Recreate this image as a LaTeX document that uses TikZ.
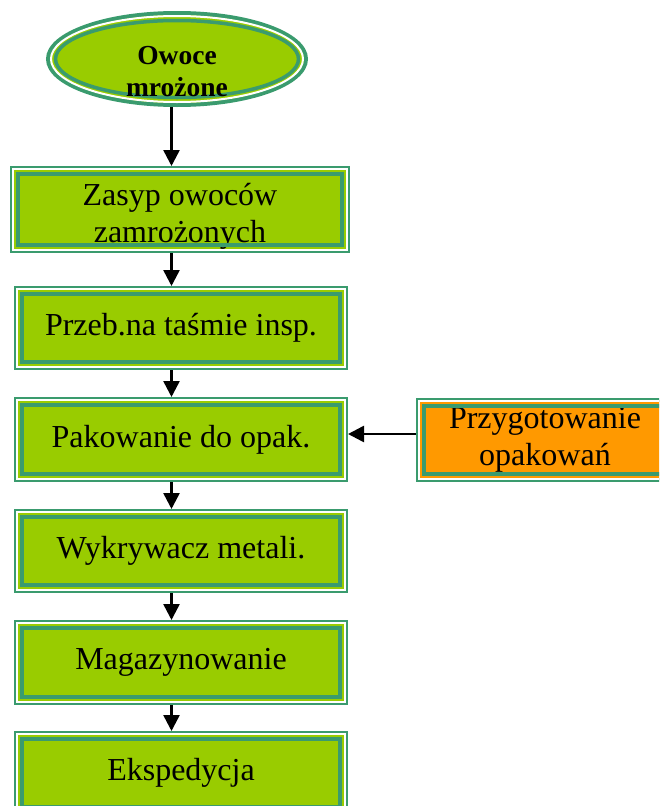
\documentclass[tikz,border=0pt]{standalone}
\usepackage{fontspec}
\setmainfont{Liberation Serif}
\usetikzlibrary{shapes.geometric,arrows.meta}
\definecolor{frgreen}{HTML}{3A9B6E}
\definecolor{lime}{HTML}{99CC00}
\definecolor{orng}{HTML}{FF9900}
\tikzset{
  stepbox/.style={rectangle, draw=frgreen, line width=4pt, fill=lime,
    inner sep=0pt, minimum width=330pt, minimum height=80pt, align=center,
    font=\fontsize{32}{37}\selectfont},
  startoval/.style={ellipse, draw=frgreen, line width=4pt, fill=lime,
    inner sep=0pt, minimum width=258pt, minimum height=92pt},
  ovaltext/.style={font=\bfseries\fontsize{27.5}{32}\selectfont, align=center},
  boxtext/.style={font=\fontsize{32}{37}\selectfont, align=center, inner sep=0pt},
  arr/.style={line width=2.5pt, -{Triangle[length=16pt,width=16pt]}},
}
\begin{document}
\begin{tikzpicture}[x=1pt,y=-1pt]
\useasboundingbox (0,0) rectangle (659,806);
\clip (0,0) rectangle (659,806);
% start oval
\node[startoval] (e) at (177,59) {};
\draw[white, line width=2pt] (e.center) ellipse [x radius=126pt, y radius=43pt];
\draw[frgreen, line width=3.5pt] (e.center) ellipse [x radius=121.5pt, y radius=38.5pt];
\node[ovaltext] (et) at (177,72) {Owoce\\mrożone};
% process steps
\node[stepbox, minimum width=336pt, minimum height=83pt] (b1) at (180,209.5) {};
\node[boxtext] (t1) at (180,216.5) {Zasyp owoców\\zamrożonych};
\node[stepbox] (b2) at (181,328) {Przeb.na taśmie insp.};
\node[stepbox, minimum height=81pt] (b3) at (181,439.5) {Pakowanie do opak.};
\node[stepbox] (b4) at (181,551) {Wykrywacz metali.};
\node[stepbox, minimum height=81pt] (b5) at (181,662.5) {Magazynowanie};
\node[stepbox] (b6) at (181,773) {Ekspedycja};
\node[stepbox, fill=orng, minimum width=254pt] (po) at (545,440) {Przygotowanie\\opakowań};
% inner double frame of each box
\foreach \n in {b1,b2,b3,b4,b5,b6,po}{
  \draw[white, line width=2pt] ([shift={(3,3)}]\n.north west) rectangle ([shift={(-3,-3)}]\n.south east);
  \draw[frgreen, line width=4pt] ([shift={(8,8)}]\n.north west) rectangle ([shift={(-8,-8)}]\n.south east);
}
% connectors
\coordinate (ax) at (171.5,0);
\coordinate (ay) at (0,434);
\draw[arr] (e.south -| ax) -- (b1.north -| ax);
\draw[arr] (b1.south -| ax) -- (b2.north -| ax);
\draw[arr] (b2.south -| ax) -- (b3.north -| ax);
\draw[arr] (b3.south -| ax) -- (b4.north -| ax);
\draw[arr] (b4.south -| ax) -- (b5.north -| ax);
\draw[arr] (b5.south -| ax) -- (b6.north -| ax);
\draw[arr] (po.west |- ay) -- (b3.east |- ay);
\end{tikzpicture}
\end{document}
